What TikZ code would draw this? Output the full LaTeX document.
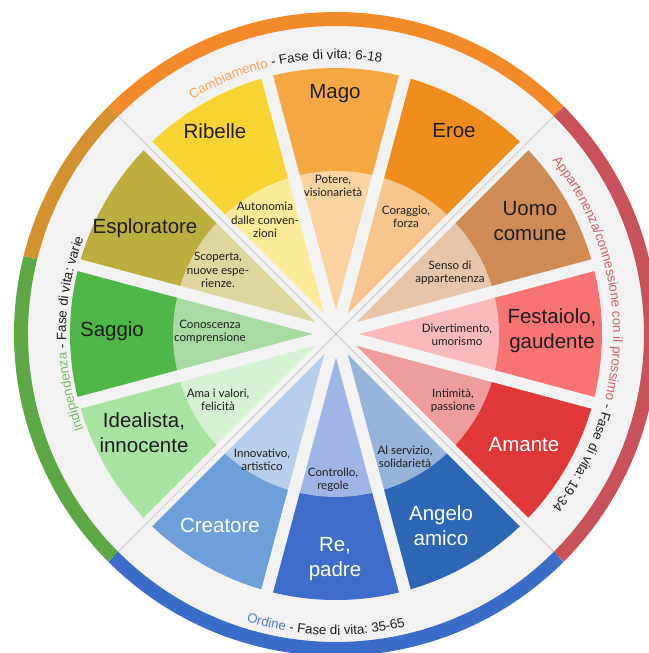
\documentclass[tikz,border=0pt]{standalone}
\usepackage{fontspec}
\setmainfont{Liberation Sans}
\newfontfamily\traitfont{Lato}
\usetikzlibrary{decorations.text}

% wedge colours
\definecolor{mago}{HTML}{F5A842}
\definecolor{eroe}{HTML}{EF8D1C}
\definecolor{ribelle}{HTML}{F7D432}
\definecolor{esplora}{HTML}{BCAE3E}
\definecolor{saggio}{HTML}{4FB648}
\definecolor{idealista}{HTML}{A9E3A2}
\definecolor{creatore}{HTML}{6E9FDA}
\definecolor{re}{HTML}{3F6BCB}
\definecolor{angelo}{HTML}{2D67B5}
\definecolor{amante}{HTML}{E03838}
\definecolor{festa}{HTML}{F87474}
\definecolor{uomo}{HTML}{CE8B55}
% outer ring and band
\definecolor{band}{HTML}{F2F2F2}
\definecolor{cambio}{HTML}{F38A2A}
\definecolor{oro}{HTML}{D4912F}
\definecolor{indip}{HTML}{5DA845}
\definecolor{ordine}{HTML}{3A6CC8}
\definecolor{appart}{HTML}{C9515A}
\definecolor{ink}{HTML}{1E1E1E}

\newcommand\bandsize{\fontsize{13.3}{15}\selectfont}

\begin{document}
\begin{tikzpicture}[x=1pt, y=1pt,
    archetype/.style={font=\fontsize{20.5}{25}\selectfont, align=center, text=ink},
    trait/.style={font=\traitfont\fontsize{11.6}{13.4}\selectfont, align=center, text=ink},
    wedgegap/.style={band, line width=12},
    divider/.style={gray!55, line width=0.6},
    ringarc/.style={line width=14},
    bandtext/.style={decorate, decoration={text along path, text align=center, text={#1}}}
]

    % Background and band
    \fill[white] (-336,-319) rectangle (312,334);
    \useasboundingbox (-336,-319) rectangle (312,334);
    \fill[band] (0,0) circle (315);

    % Outer ring
    \draw[ringarc, cambio] (45:315) arc[start angle=45, end angle=135, radius=315];
    \draw[ringarc, oro] (135:315) arc[start angle=135, end angle=166, radius=315];
    \draw[ringarc, indip] (166:315) arc[start angle=166, end angle=225, radius=315];
    \draw[ringarc, ordine] (225:315) arc[start angle=225, end angle=315, radius=315];
    \draw[ringarc, appart] (315:315) arc[start angle=315, end angle=405, radius=315];

    % Wedges, with a lighter inner part
    \foreach \a/\c in {90/mago, 60/eroe, 30/uomo, 0/festa, -30/amante, -60/angelo,
                       -90/re, -120/creatore, -150/idealista, 180/saggio, 150/esplora, 120/ribelle} {
        \fill[\c] (0,0) -- (\a-15:266) arc[start angle=\a-15, end angle=\a+15, radius=266] -- cycle;
        \fill[\c!50!white] (0,0) -- (\a-15:163) arc[start angle=\a-15, end angle=\a+15, radius=163] -- cycle;
    }

    % Gaps between wedges
    \foreach \a in {15,45,...,345} {
        \draw[wedgegap] (0,0) -- (\a:272);
    }

    % Group boundaries
    \draw[divider] (45:308) -- (225:308);
    \draw[divider] (135:308) -- (315:308);

    % Texts along the band
    \path[bandtext={|\bandsize\color{cambio!75!white}|Cambiamento |\bandsize\color{ink}|- Fase di vita: 6-18}]
        (161:275) arc[start angle=161, end angle=41, radius=275];
    \path[bandtext={|\bandsize\color{appart!90!white}|Appartenenza/connessione con il prossimo |\bandsize\color{ink}|- Fase di vita: 19-34}]
        (70:277) arc[start angle=70, end angle=-70, radius=277];
    \path[bandtext={|\bandsize\color{ordine!90!white}|Ordine |\bandsize\color{ink}|- Fase di vita: 35-65}]
        (218:301) arc[start angle=218, end angle=318, radius=301];
    \path[bandtext={|\bandsize\color{indip!80!white}|Indipendenza |\bandsize\color{ink}|- Fase di vita: varie}]
        (230:270) arc[start angle=230, end angle=130, radius=270];

    % Archetypes
    \node[archetype] (mago) at (-1,240) {Mago};
    \node[archetype] (eroe) at (118,203) {Eroe};
    \node[archetype] (uomo) at (194,113) {Uomo\\comune};
    \node[archetype] (festaiolo) at (216,3) {Festaiolo,\\gaudente};
    \node[archetype, text=white] (amante) at (188,-111) {Amante};
    \node[archetype, text=white] (angelo) at (105,-192) {Angelo\\amico};
    \node[archetype, text=white] (re) at (-1,-225) {Re,\\padre};
    \node[archetype, text=white] (creatore) at (-116,-191) {Creatore};
    \node[archetype] (idealista) at (-192,-99) {Idealista,\\innocente};
    \node[archetype] (saggio) at (-224,3) {Saggio};
    \node[archetype] (esploratore) at (-191,106) {Esploratore};
    \node[archetype] (ribelle) at (-121,203) {Ribelle};

    % Traits
    \node[trait] (potere) at (-3,148) {Potere,\\visionarietà};
    \node[trait] (coraggio) at (70,117) {Coraggio,\\forza};
    \node[trait] (senso) at (114,61) {Senso di\\appartenenza};
    \node[trait] (diverti) at (121,-1) {Divertimento,\\umorismo};
    \node[trait] (intimita) at (117,-67) {Intimità,\\passione};
    \node[trait] (servizio) at (69,-123) {Al servizio,\\solidarietà};
    \node[trait] (controllo) at (-3,-146) {Controllo,\\regole};
    \node[trait] (innova) at (-74,-126) {Innovativo,\\artistico};
    \node[trait] (valori) at (-118,-66) {Ama i valori,\\felicità};
    \node[trait] (conosce) at (-126,2) {Conoscenza\\comprensione};
    \node[trait] (scoperta) at (-118,64) {Scoperta,\\nuove espe-\\rienze.};
    \node[trait] (autonomia) at (-71,114) {Autonomia\\dalle conven-\\zioni};

\end{tikzpicture}
\end{document}
